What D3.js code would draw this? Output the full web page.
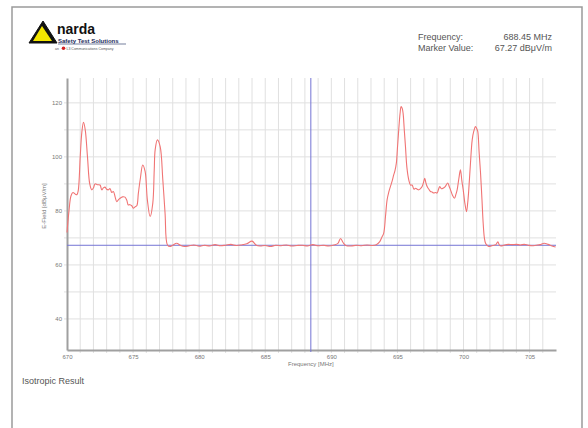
<!DOCTYPE html>
<html><head><meta charset="utf-8">
<script src="https://cdn.jsdelivr.net/npm/d3@7"></script>
<style>html,body{margin:0;padding:0;background:#fff;}svg{display:block;font-family:"Liberation Sans",Arial,sans-serif;}</style>
</head><body>
<svg id="c" width="588" height="428"></svg>
<script>
const freqs = [670.0,670.15,670.3,670.45,670.6,670.75,670.85,671.0,671.12,671.25,671.38,671.55,671.72,671.87,672.0,672.12,672.3,672.5,672.63,672.75,672.88,673.0,673.13,673.25,673.39,673.51,673.65,673.77,673.9,674.02,674.2,674.39,674.52,674.64,674.77,674.9,675.02,675.15,675.28,675.4,675.55,675.73,675.91,676.08,676.29,676.49,676.6,676.67,676.84,677.05,677.25,677.42,677.6,677.8,678.0,678.3,678.6,678.9,679.2,679.6,680.0,680.4,680.8,681.2,681.6,682.0,682.4,682.8,683.2,683.6,684.0,684.3,684.6,685.0,685.4,685.8,686.2,686.6,687.0,687.4,687.8,688.2,688.6,689.0,689.4,689.8,690.2,690.5,690.7,690.9,691.1,691.5,691.9,692.3,692.7,693.1,693.4,693.65,693.8,693.96,694.1,694.22,694.35,694.47,694.6,694.72,694.82,694.92,695.0,695.1,695.2,695.28,695.36,695.43,695.52,695.61,695.72,695.86,696.0,696.11,696.25,696.36,696.5,696.62,696.75,696.87,697.0,697.07,697.15,697.25,697.38,697.5,697.62,697.75,697.88,698.0,698.1,698.2,698.33,698.46,698.62,698.81,698.92,699.02,699.15,699.32,699.42,699.52,699.65,699.77,699.88,699.98,700.1,700.23,700.32,700.4,700.52,700.66,700.78,700.91,701.0,701.08,701.18,701.29,701.4,701.49,701.58,701.67,701.8,701.92,702.1,702.3,702.45,702.6,702.72,702.85,703.1,703.4,703.7,704.0,704.3,704.6,704.9,705.2,705.5,705.8,706.1,706.4,706.7,706.97];
const efield = [72,80,85.5,86.8,86.3,86.0,87.5,100,109,112.8,110,100,90,87.8,88.5,90,89.7,89.6,87.8,88.5,88.8,88,87.8,88.3,86.8,87.2,85,83.4,84.2,84.7,85.2,85.1,84,82.2,82.3,81.9,81.0,81.5,81.9,86.6,92,97,94.6,84.1,77.9,82.8,95,102.6,106.3,103.8,91.5,79.1,67.4,66.8,67.3,68.0,67.2,66.8,67.0,67.4,66.9,67.3,67.0,67.5,67.1,67.3,67.6,67.2,67.4,67.8,68.8,67.4,67.0,67.2,66.8,67.3,67.1,67.4,67.0,67.2,67.3,67.0,67.5,67.1,67.3,67.0,67.4,68.0,69.8,68.2,67.2,67.0,67.3,67.1,67.4,67.2,67.5,68.5,70,71.7,78,84.1,87,89,91,93.3,95,97.7,103,110,116,118.6,118,116.2,110,103.8,96,91.5,89.5,89.6,88,88.4,88,87.8,88.3,89,91,92.1,90.5,89,88,87.2,87,86.6,86.8,86.6,87.8,89,88.2,88.4,89,90.3,89,87.8,86,84.7,86,87.8,92,95.2,91,87.8,83,79.7,83,87.8,97,106.3,109.5,111.2,110.5,109.4,102,94,84,75.4,70,68,67.2,66.8,67.0,67.3,67.5,68.6,67.3,67,67.4,67.6,67.5,67.6,67.4,67.6,67.3,67.1,67.3,67.5,68.0,67.6,67.0,66.6];
const xTickLabels = [670,675,680,685,690,695,700,705];
const yTickLabels = [40,60,80,100,120];
const markerFreq = 688.45;
const markerValue = 67.27;

const svg = d3.select("#c");
const x = d3.scaleLinear().domain([670,707]).range([67,556]);
const y = d3.scaleLinear().domain([28.5,129.2]).range([350,78]);

// frame
svg.append("path").attr("d","M12,428 L12,7 L582,7 L582,428").attr("fill","none").attr("stroke","#9a9a9a").attr("stroke-width",1.5);

// grid
const g = svg.append("g");
g.selectAll("line.vg").data(d3.range(671,707)).enter().append("line")
  .attr("x1",d=>x(d)).attr("x2",d=>x(d)).attr("y1",78).attr("y2",353)
  .attr("stroke","#e0e0e0").attr("stroke-width",1);
g.selectAll("line.hg").data(d3.range(40,121,10)).enter().append("line")
  .attr("x1",64).attr("x2",556).attr("y1",d=>y(d)).attr("y2",d=>y(d))
  .attr("stroke","#e0e0e0").attr("stroke-width",1);

// axes
const xAxis = d3.axisBottom(x).tickValues(xTickLabels).tickSize(0).tickPadding(5).tickFormat(d3.format("d"));
const yAxis = d3.axisLeft(y).tickValues(yTickLabels).tickSize(0).tickPadding(5).tickFormat(d3.format("d"));
const gx = svg.append("g").attr("transform","translate(0,350)").call(xAxis);
const gy = svg.append("g").attr("transform","translate(67,0)").call(yAxis);
[gx,gy].forEach(a=>{
  a.select(".domain").attr("stroke","#a0a0a0").attr("stroke-width",2);
  a.selectAll("text").attr("fill","#777").attr("font-size","6px").attr("font-family","Liberation Sans, Arial, sans-serif");
});

svg.append("text").attr("x",x(688.45)).attr("y",366).attr("text-anchor","middle")
  .attr("font-size","6px").attr("fill","#777").text("Frequency [MHz]");
svg.append("text").attr("transform","translate(46,206) rotate(-90)").attr("text-anchor","middle")
  .attr("font-size","6px").attr("fill","#777").text("E-Field [dBμV/m]");

// markers
svg.append("line").attr("x1",x(670)).attr("x2",x(707)).attr("y1",y(markerValue)).attr("y2",y(markerValue))
  .attr("stroke","#7474d4").attr("stroke-width",1);
svg.append("line").attr("x1",x(markerFreq)).attr("x2",x(markerFreq)).attr("y1",78).attr("y2",352)
  .attr("stroke","#7474d4").attr("stroke-width",1);

// trace
const pts = freqs.map((f,i)=>[f,efield[i]]);
const line = d3.line().x(d=>x(d[0])).y(d=>y(d[1])).curve(d3.curveCatmullRom.alpha(0.5));
svg.append("path").datum(pts).attr("d",line).attr("fill","none").attr("stroke","#f07474").attr("stroke-width",1.1);

// header right
const hdr = svg.append("g").attr("font-size","9px").attr("fill","#555");
hdr.append("text").attr("x",418).attr("y",40).text("Frequency:");
hdr.append("text").attr("x",418).attr("y",51).text("Marker Value:");
hdr.append("text").attr("x",552).attr("y",40).attr("text-anchor","end").text(markerFreq.toFixed(2)+" MHz");
hdr.append("text").attr("x",552).attr("y",51).attr("text-anchor","end").text(markerValue.toFixed(2)+" dBμV/m");

// logo
const logo = svg.append("g");
logo.append("path").attr("d","M43,21 L57,43 L29,43 Z").attr("fill","#111").attr("stroke","#111").attr("stroke-width",1).attr("stroke-linejoin","round");
logo.append("path").attr("d","M42,26 L52,41 L33,41 Z").attr("fill","#f3e600");
logo.append("text").attr("x",57).attr("y",34).attr("font-size","14px").attr("font-weight","bold").attr("fill","#111").text("narda");
logo.append("text").attr("x",58).attr("y",42.5).attr("font-size","6px").attr("font-weight","bold").attr("fill","#1a2a5a").text("Safety Test Solutions");
logo.append("line").attr("x1",58).attr("x2",126).attr("y1",44).attr("y2",44).attr("stroke","#1a2a5a").attr("stroke-width",0.6);
logo.append("text").attr("x",55).attr("y",49.5).attr("font-size","3.5px").attr("fill","#555").text("an");
logo.append("circle").attr("cx",63.5).attr("cy",48.3).attr("r",1.8).attr("fill","#d42020");
logo.append("text").attr("x",66.5).attr("y",49.5).attr("font-size","3.5px").attr("fill","#555").text("L3 Communications Company");

// footer
svg.append("text").attr("x",22).attr("y",384).attr("font-size","9px").attr("fill","#555").text("Isotropic Result");
</script>
</body></html>
